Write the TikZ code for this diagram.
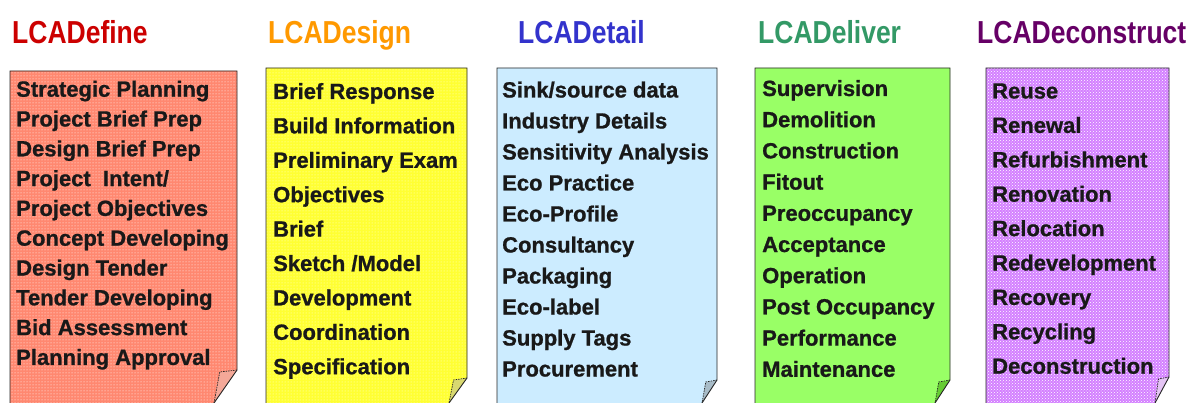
\documentclass[tikz,border=0pt]{standalone}
\usepackage{fontspec}
\setmainfont{Liberation Sans}
\newfontfamily\heavy[BoldFeatures={FakeBold=0.9}]{Liberation Sans}
\usetikzlibrary{patterns}
\definecolor{tred}{HTML}{CC0000}
\definecolor{torange}{HTML}{FF9900}
\definecolor{tblue}{HTML}{3333CC}
\definecolor{tgreen}{HTML}{339966}
\definecolor{tpurple}{HTML}{660066}
\definecolor{fred}{HTML}{FF8870}
\definecolor{fyellow}{HTML}{FFFF33}
\definecolor{fblue}{HTML}{CCECFF}
\definecolor{fgreen}{HTML}{99FF66}
\definecolor{fpurple}{HTML}{D480FF}
\definecolor{flred}{HTML}{F4A898}
\definecolor{flyellow}{HTML}{D8D870}
\definecolor{flblue}{HTML}{A8BCC8}
\definecolor{flgreen}{HTML}{66CC33}
\definecolor{flpurple}{HTML}{E4C4F4}
\newcommand\docbox[8]{%
  \pgfmathsetmacro\xf{#2-0.75*(#2-#5)}%
  \pgfmathsetmacro\yf{#4+2}%
  \fill[#6] (#1,#3) -- (#2,#3) -- (#2,#4) -- (#5,403) -- (#5,410) -- (#1,410) -- cycle;
  \fill[#8] (#1,#3) -- (#2,#3) -- (#2,#4) -- (#5,403) -- (#5,410) -- (#1,410) -- cycle;
  \filldraw[flapline, fill=#7] (#2,#4) -- (\xf,\yf) -- (#5,403);
  \draw[edgeline] (#1,410) -- (#1,#3) -- (#2,#3) -- (#2,#4) -- (#5,403);
}
\begin{document}
\begin{tikzpicture}[x=1pt,y=-1pt,
  item/.style={anchor=base west, inner sep=0pt, font=\fontsize{22}{24}\selectfont\heavy\bfseries, text=black!90},
  ttl/.style={anchor=base west, inner sep=0pt, font=\fontsize{26.5}{28}\selectfont\bfseries},
  edgeline/.style={draw=black!85, line width=0.9pt},
  flapline/.style={draw=black!85, line width=0.7pt, dash pattern=on 1.5pt off 1pt}]
\useasboundingbox (0,0) rectangle (1198,403);
\fill[white] (0,0) rectangle (1198,403);

% boxes
\docbox{10}{237}{71}{370}{214}{fred}{flred}{pattern=dots, pattern color=white}
\docbox{266}{467}{68}{378}{449}{fyellow}{flyellow}{pattern=dots, pattern color=white!80!fyellow}
\docbox{497}{717}{68}{380}{702}{fblue}{flblue}{fill=none}
\docbox{755}{950}{68}{380}{935}{fgreen}{flgreen}{fill=none}
\docbox{986}{1169}{68}{377}{1155}{fpurple}{flpurple}{pattern=crosshatch dots, pattern color=white}

% titles
\node[ttl, text=tred] (t1) at (12,43.3) {\scalebox{1}[1.2]{LCADefine}};
\node[ttl, text=torange] (t2) at (268,43.3) {\scalebox{1}[1.2]{LCADesign}};
\node[ttl, text=tblue] (t3) at (518,43.3) {\scalebox{1}[1.2]{LCADetail}};
\node[ttl, text=tgreen] (t4) at (758,43.3) {\scalebox{1}[1.2]{LCADeliver}};
\node[ttl, text=tpurple] (t5) at (977,43.3) {\scalebox{1}[1.2]{LCADeconstruct}};

% items
\foreach \t [count=\i from 0] in {Strategic Planning, Project Brief Prep, Design Brief Prep, Project~ Intent/, Project Objectives, Concept Developing, Design Tender, Tender Developing, Bid Assessment, Planning Approval}
  \node[item] (a\i) at (16,{96.7+29.8*\i}) {\t};
\foreach \t [count=\i from 0] in {Brief Response, Build Information, Preliminary Exam, Objectives, Brief, Sketch /Model, Development, Coordination, Specification}
  \node[item] (b\i) at (273,{99+34.4*\i}) {\t};
\foreach \t [count=\i from 0] in {Sink/source data, Industry Details, Sensitivity Analysis, Eco Practice, Eco-Profile, Consultancy, Packaging, Eco-label, Supply Tags, Procurement}
  \node[item] (c\i) at (502,{97.5+31*\i}) {\t};
\foreach \t [count=\i from 0] in {Supervision, Demolition, Construction, Fitout, Preoccupancy, Acceptance, Operation, Post Occupancy, Performance, Maintenance}
  \node[item] (d\i) at (762,{96+31.2*\i}) {\t};
\foreach \t [count=\i from 0] in {Reuse, Renewal, Refurbishment, Renovation, Relocation, Redevelopment, Recovery, Recycling, Deconstruction}
  \node[item] (e\i) at (992,{98.5+34.4*\i}) {\t};
\end{tikzpicture}
\end{document}
